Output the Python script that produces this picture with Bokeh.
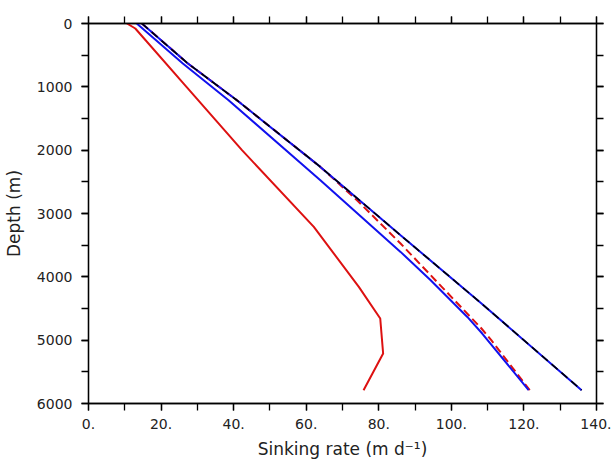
from bokeh.plotting import figure
from bokeh.models import FixedTicker, LinearAxis, Range1d
from bokeh.embed import file_html
from bokeh.resources import INLINE

# ---- data ----
depth_red = [0, 79, 1000, 2000, 3211, 4159, 4658, 5211, 5790]
rate_red = [10.6, 12.9, 27.0, 42.3, 62.1, 74.5, 80.4, 81.2, 75.8]

depth_red_dash = [0, 632, 1212, 2264, 2790, 3474, 4053, 4816, 5000, 5790]
rate_red_dash = [14.7, 27.4, 40.9, 63.9, 74.0, 86.0, 95.6, 108.3, 111.0, 121.6]

depth_blue1 = [0, 632, 1211, 2474, 3606, 4053, 4633, 4895, 5790]
rate_blue1 = [13.3, 26.0, 38.6, 63.9, 86.0, 94.3, 104.4, 108.5, 121.3]

depth_blue2 = [0, 632, 1212, 2264, 3343, 4421, 5790]
rate_blue2 = [14.7, 27.4, 40.9, 63.9, 86.0, 108.3, 135.9]

depth_black = [0, 632, 1212, 2264, 3343, 4421, 5790]
rate_black = [14.7, 27.4, 40.9, 63.9, 86.0, 108.3, 135.9]

x_ticks = [0, 20, 40, 60, 80, 100, 120, 140]
x_minor = [0, 10, 20, 30, 40, 50, 60, 70, 80, 90, 100, 110, 120, 130, 140]
y_ticks = [0, 1000, 2000, 3000, 4000, 5000, 6000]
y_minor = [0, 500, 1000, 1500, 2000, 2500, 3000, 3500, 4000, 4500, 5000, 5500, 6000]
x_labels = {v: f"{v}." for v in x_ticks}

FONT = "DejaVu Sans"

p = figure(width=611, height=461,
           x_range=Range1d(0, 140), y_range=Range1d(6000, 0),
           output_backend="svg", toolbar_location=None,
           min_border_left=88, min_border_right=15,
           min_border_top=23, min_border_bottom=58)
p.grid.visible = False
p.outline_line_color = "black"
p.outline_line_width = 1.3
p.background_fill_color = "white"
p.border_fill_color = "white"

xt = FixedTicker(ticks=x_ticks, minor_ticks=x_minor)
yt = FixedTicker(ticks=y_ticks, minor_ticks=y_minor)


def style(ax, show_labels=True, standoff=8, label_standoff=9):
    ax.major_tick_in = 0
    ax.major_tick_out = 7
    ax.minor_tick_in = 0
    ax.minor_tick_out = 7
    ax.axis_line_color = "black"
    ax.axis_line_width = 1.3
    ax.major_tick_line_color = "black"
    ax.major_tick_line_width = 1.3
    ax.minor_tick_line_color = "black"
    ax.minor_tick_line_width = 1.3
    ax.major_label_text_font = FONT
    ax.major_label_text_color = "#222222"
    if show_labels:
        ax.major_label_text_font_size = "14px"
        ax.major_label_standoff = standoff
    else:
        ax.major_label_text_font_size = "1px"
        ax.major_label_text_alpha = 0
        ax.major_label_standoff = 0
    ax.axis_label_text_font = FONT
    ax.axis_label_text_font_style = "normal"
    ax.axis_label_text_font_size = "17px"
    ax.axis_label_text_color = "#222222"
    ax.axis_label_standoff = label_standoff


xa = p.xaxis[0]
xa.ticker = xt
xa.major_label_overrides = x_labels
xa.axis_label = "Sinking rate (m d\u207b\u00b9)"
style(xa, standoff=8, label_standoff=7)

ya = p.yaxis[0]
ya.ticker = yt
ya.axis_label = "Depth (m)"
style(ya, standoff=9, label_standoff=10)

top = LinearAxis(ticker=xt)
style(top, show_labels=False)
p.add_layout(top, "above")

right = LinearAxis(ticker=yt)
style(right, show_labels=False)
p.add_layout(right, "right")

p.line(rate_red, depth_red, line_color="#dd1111", line_width=2)
p.line(rate_red_dash, depth_red_dash, line_color="#dd1111", line_width=2,
       line_dash="8 4")
p.line(rate_blue1, depth_blue1, line_color="#1111ee", line_width=2)
p.line(rate_blue2, depth_blue2, line_color="#1111ee", line_width=2)
p.line(rate_black, depth_black, line_color="black", line_width=1.6,
       line_dash="8 5")

open("out.html", "w").write(file_html(p, INLINE))
